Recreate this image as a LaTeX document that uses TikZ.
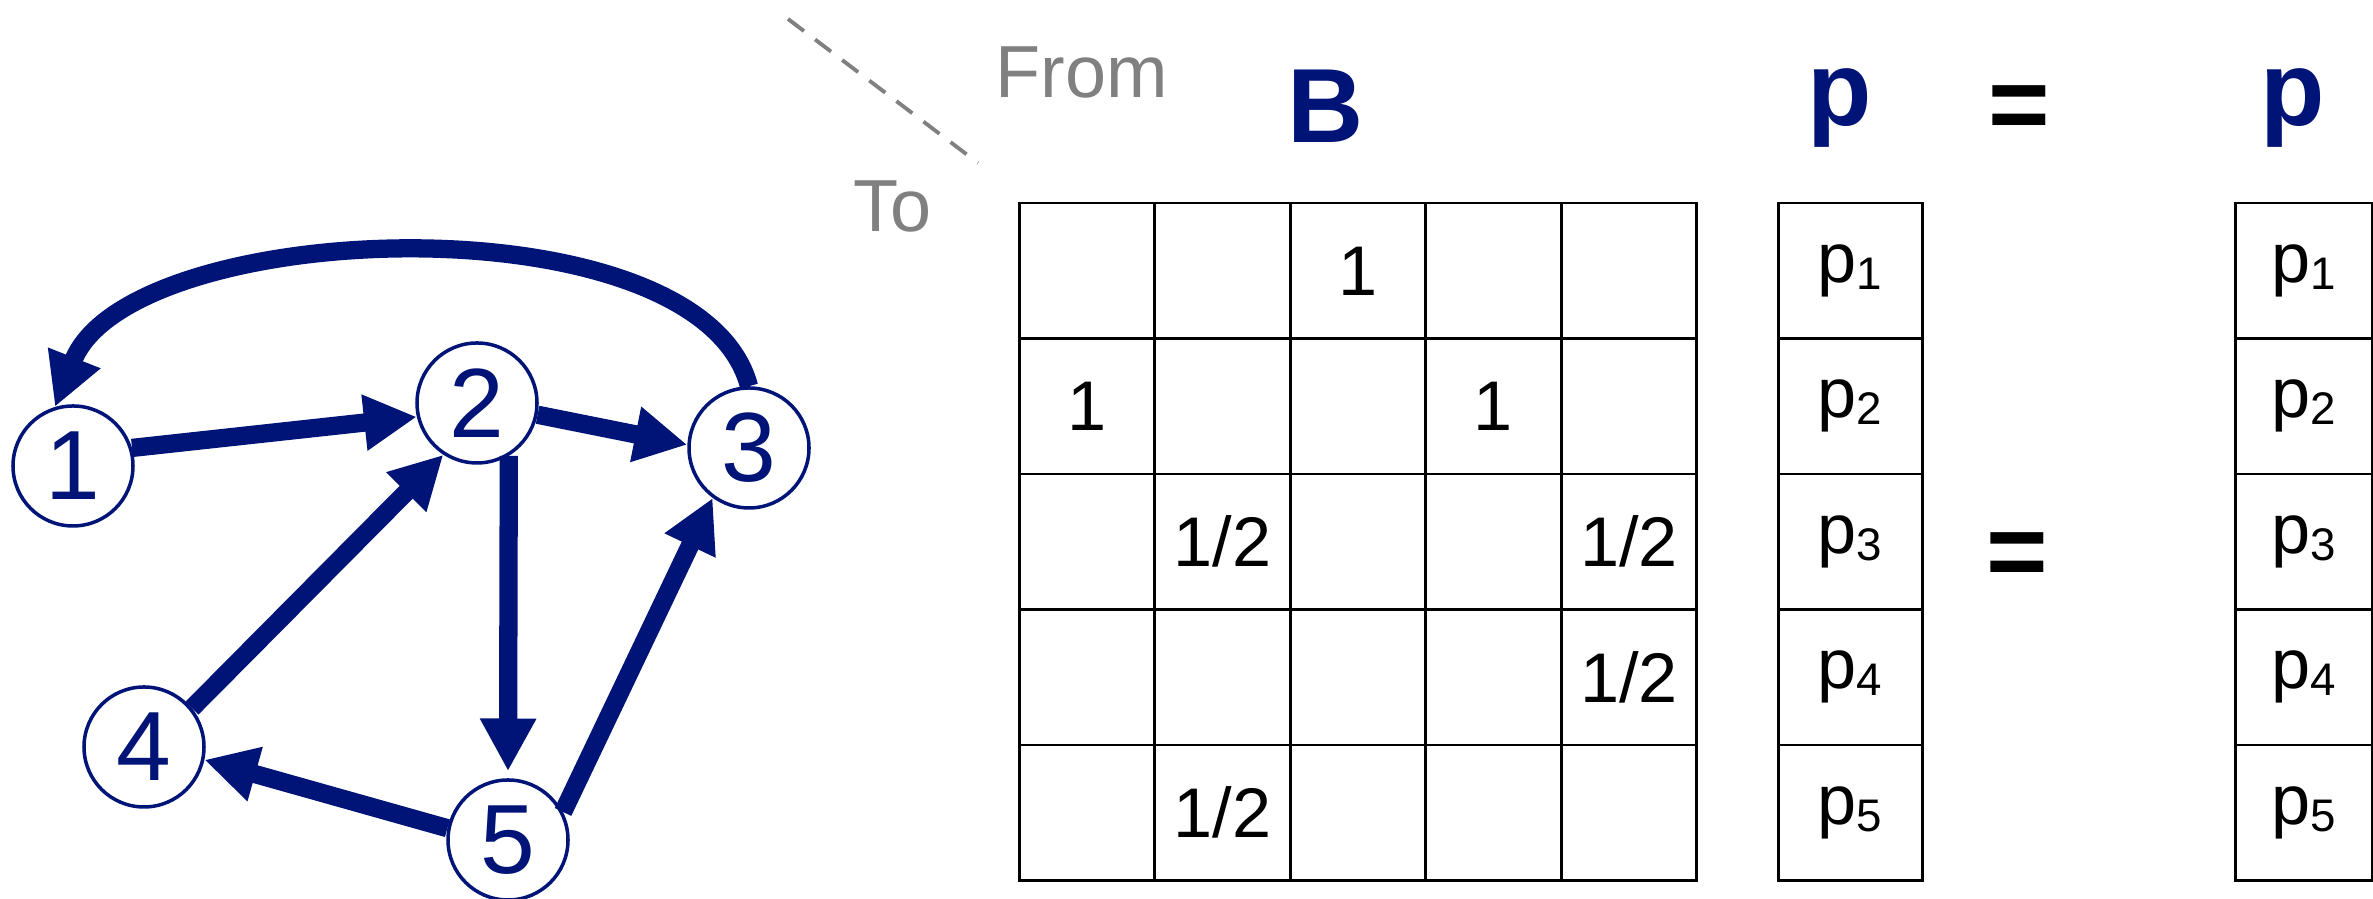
\documentclass[tikz,border=0pt]{standalone}
\usepackage{fontspec}
\setmainfont{Liberation Sans}
\usepackage{tikz}
\usetikzlibrary{arrows.meta, matrix}
\definecolor{navyB}{RGB}{0,20,120}
\definecolor{grisTxt}{RGB}{128,128,128}
\newcommand{\psub}[1]{p\raisebox{-0.1em}{\fontsize{13}{13}\selectfont #1}}

\begin{document}
\begin{tikzpicture}[
  state/.style={circle, draw=navyB, line width=1pt, fill=white, text=navyB,
                minimum size=1.2cm, inner sep=0pt, font=\fontsize{28}{28}\selectfont},
  link/.style={-{Triangle[length=15pt, width=15pt]}, line width=5.2pt, draw=navyB},
  cell/.style={rectangle, draw=black, line width=0.8pt, minimum width=1.355cm,
               minimum height=1.355cm, inner sep=0pt, outer sep=0pt, anchor=center,
               font=\fontsize{20}{20}\selectfont},
  grid/.style={matrix of nodes, nodes in empty cells, inner sep=0pt,
               column sep=-0.8pt, row sep=-0.8pt, anchor=north west},
  head/.style={inner sep=0pt, anchor=base, text=navyB,
               font=\fontsize{30}{30}\selectfont\bfseries},
  axis/.style={inner sep=0pt, anchor=base west, text=grisTxt,
               font=\fontsize{21}{21}\selectfont},
  divider/.style={draw=grisTxt, line width=1.1pt, dash pattern=on 0.2cm off 0.14cm}
]
\useasboundingbox (0,0) rectangle (23.73,8.99);

% graph
\node[state] (n1) at (0.73,4.33) {1};
\node[state] (n2) at (4.77,4.96) {2};
\node[state] (n3) at (7.49,4.51) {3};
\node[state] (n4) at (1.44,1.52) {4};
\node[state] (n5) at (5.08,0.59) {5};

\draw[link] (n1.17) -- (n2.193);
\draw[link] (n2.-11) -- (n3.177);
\draw[link] (n3.north) .. controls +(-0.5,1.9) and +(0.75,1.9) .. (n1.107);
\draw[link, shorten >=2pt] (n2.-59) -- (n5.north);
\draw[link] (n4.39) -- (n2.237);
\draw[link] (n5.169) -- (n4.-12);
\draw[link] (n5.27) -- (n3.234);

% From / To
\coordinate (dA) at (7.88,8.80);
\coordinate (dB) at (9.78,7.36);
\draw[divider] (dA) -- (dB);
\node[axis] (from) at (9.95,8.01) {From};
\node[axis] (to) at (8.53,6.67) {To};

% B
\node[head] (hB) at (13.26,7.56) {B};
\matrix (B) [grid, nodes={cell}] at (10.17,6.98) {
     &     & 1 &   &     \\
   1 &     &   & 1 &     \\
     & 1/2 &   &   & 1/2 \\
     &     &   &   & 1/2 \\
     & 1/2 &   &   &     \\
};

% p = p
\node[head] (hp1) at (18.40,7.73) {p};
\node[head, text=black] (eq1) at (20.19,7.58) {=};
\node[head] (hp2) at (22.93,7.73) {p};
\node[head, text=black] (eq2) at (20.17,3.11) {=};

\matrix (P1) [grid, nodes={cell, minimum width=1.44cm}] at (17.76,6.98) {
  \psub{1} \\ \psub{2} \\ \psub{3} \\ \psub{4} \\ \psub{5} \\
};
\matrix (P2) [grid, nodes={cell, minimum width=1.37cm}] at (22.33,6.98) {
  \psub{1} \\ \psub{2} \\ \psub{3} \\ \psub{4} \\ \psub{5} \\
};

\end{tikzpicture}
\end{document}
